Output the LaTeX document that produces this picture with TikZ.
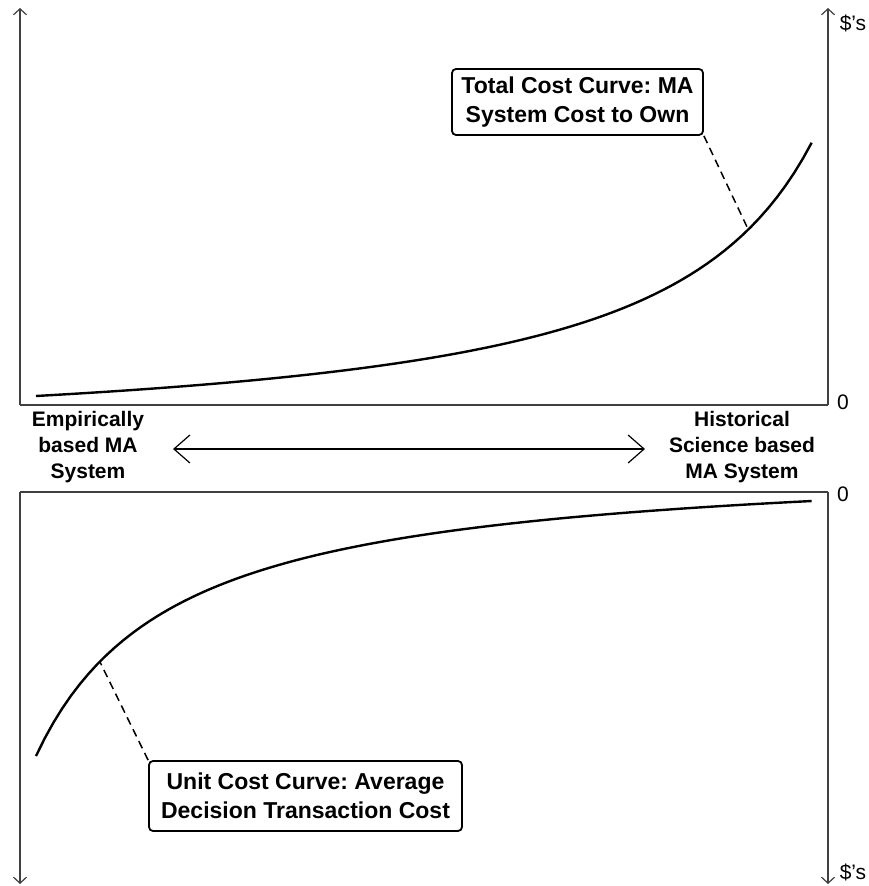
\documentclass[tikz,border=0pt]{standalone}
\usepackage{fontspec}
\setmainfont{Liberation Sans}
\usetikzlibrary{positioning,arrows.meta}
\frenchspacing

\begin{document}
\begin{tikzpicture}[
    x=0.5pt, y=-0.5pt,
    axis/.style={draw=black!75, line width=0.6pt, -{Straight Barb[length=3pt,width=6.5pt]}},
    frame/.style={draw=black!75, line width=0.6pt},
    curve/.style={line width=1.2pt, black},
    callout/.style={draw, rounded corners=2pt, line width=0.9pt, align=center,
                    font=\fontsize{11.5}{14.5}\selectfont\bfseries, inner sep=2pt},
    side/.style={align=center, font=\fontsize{10.5}{13}\selectfont\bfseries},
    tick/.style={font=\fontsize{10.5}{12}\selectfont},
    leader/.style={dash pattern=on 4pt off 2.6pt, line width=0.75pt},
    span/.style={line width=0.6pt, {Straight Barb[length=8pt,width=14pt]}-{Straight Barb[length=8pt,width=14pt]}}
]
\useasboundingbox (0,0) rectangle (868,886);

% top panel: total cost
\coordinate (tl) at (20,405);
\coordinate (tr) at (828,405);
\draw[axis] (tl) -- (20,8);
\draw[axis] (tr) -- (828,8);
\draw[frame] (tl) -- (tr);
\node[tick] (tdol) at (853,23) {\$'s};
\node[tick] (tzero) at (843,402) {0};
\draw[curve] plot[domain=0:1, samples=90] ({36+776*\x}, {396-52.07*\x/(1.205-\x)});
\coordinate (tpick) at (748,229);
\node[callout, minimum width=125.5pt, minimum height=33pt] (total) at (577.5,102)
     {Total Cost Curve: MA\\System Cost to Own};
\draw[leader] (total.south east) -- (tpick);

% middle: range between the two kinds of system
\node[side] (emp) at (88,447) {Empirically\\based MA\\System};
\node[side] (hist) at (742,447) {Historical\\Science based\\MA System};
\coordinate (aleft) at (173,449);
\coordinate (aright) at (645,449);
\draw[span] (aleft) -- (aright);

% bottom panel: unit cost
\coordinate (bl) at (20,492);
\coordinate (br) at (828,492);
\draw[axis] (bl) -- (20,884);
\draw[axis] (br) -- (828,884);
\draw[frame] (bl) -- (br);
\node[tick] (bzero) at (843,494) {0};
\node[tick] (bdol) at (853,872) {\$'s};
\draw[curve] plot[domain=0:1, samples=90] ({36+776*\x}, {756-255*\x*1.18/(0.18+\x)});
\coordinate (bpick) at (100,662);
\node[callout, minimum width=156.5pt, minimum height=35pt] (unit) at (305.5,796)
     {Unit Cost Curve: Average\\Decision Transaction Cost};
\draw[leader] (unit.north west) -- (bpick);
\end{tikzpicture}
\end{document}
